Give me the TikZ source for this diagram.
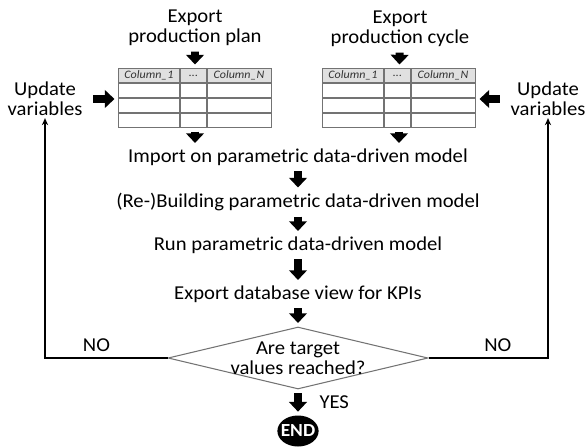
\documentclass[tikz,border=0pt]{standalone}
\usepackage{fontspec}
\setmainfont{Carlito}[FakeStretch=1.05]
\usetikzlibrary{arrows.meta,positioning,shapes.geometric}

\tikzset{
  txt/.style={font=\fontsize{11.2}{11.5}\selectfont, align=center, inner sep=1pt},
  hdr/.style={font=\fontsize{6.5}{7}\selectfont\itshape, text=black!80, inner sep=0pt},
  blk/.style={line width=4.5pt, -{Triangle[width=10pt,length=5.5pt]}, shorten <=2pt, shorten >=2pt},
  back/.style={line width=0.8pt, -{Stealth[length=4pt,width=3.5pt]}},
  cell/.style={draw=black!55, line width=0.6pt},
  decision/.style={diamond, draw=black!55, line width=0.6pt, minimum width=5.2cm, minimum height=1.24cm, inner sep=0pt},
  endnode/.style={ellipse, fill=black, text=white, font=\fontsize{10.5}{10.5}\selectfont\bfseries, minimum width=0.8cm, minimum height=0.62cm, inner sep=-1.5pt}
}

\begin{document}
\begin{tikzpicture}[x=0.02cm,y=-0.02cm]
\useasboundingbox (0,0) rectangle (585,447);

% the two data tables
\foreach \tx/\nm in {118/tabL,322/tabR}{
  \fill[black!12] (\tx,68) rectangle ++(153,15);
  \foreach \ry in {83,98,113} \draw[cell] (\tx,\ry) -- ++(153,0);
  \foreach \cx in {62,89} \draw[cell] (\tx+\cx,68) -- (\tx+\cx,127);
  \node[cell, minimum width=3.06cm, minimum height=1.18cm, anchor=north west, inner sep=0pt] (\nm) at (\tx,68) {};
  \node[hdr] at (\tx+31,75.5) {Column\_1};
  \node[hdr] at (\tx+75.5,75.5) {...};
  \node[hdr] at (\tx+121,75.5) {Column\_N};
}

\node[txt] (plan) at (195,28) {Export\\production plan};
\node[txt] (cycle) at (400,29) {Export\\production cycle};
\node[txt] (updL) at (45,99) {Update\\variables};
\node[txt] (updR) at (548,99) {Update\\variables};

\node[txt] (imp) at (298,157) {Import on parametric data-driven model};
\node[txt] (build) at (298,202) {(Re-)Building parametric data-driven model};
\node[txt] (run) at (298,245) {Run parametric data-driven model};
\node[txt] (kpi) at (298,294) {Export database view for KPIs};
\node[decision] (dec) at (298,358) {};
\node[txt] (decq) at (dec) {Are target\\values reached?};
\node[endnode] (end) at (298,431) {END};

% block arrows
\draw[blk] (plan) -- (tabL);
\draw[blk] (cycle) -- (tabR);
\draw[blk, shorten <=5pt] (updL.east) -- (updL.east -| tabL.west);
\draw[blk, shorten <=5pt] (updR.west) -- (updR.west -| tabR.east);
\draw[blk] (tabL.south) -- (tabL.south |- imp.north);
\draw[blk] (tabR.south) -- (tabR.south |- imp.north);
\draw[blk] (imp) -- (build);
\draw[blk] (build) -- (run);
\draw[blk] (run) -- (kpi);
\draw[blk] (kpi) -- (dec);
\draw[blk] (dec) -- node[txt, right=9pt] {YES} (end);

% feedback loops
\draw[back] (dec.west) -| node[txt, pos=0.29, above=2pt] {NO} (updL.south);
\draw[back] (dec.east) -| node[txt, pos=0.29, above=2pt] {NO} (updR.south);
\end{tikzpicture}
\end{document}
